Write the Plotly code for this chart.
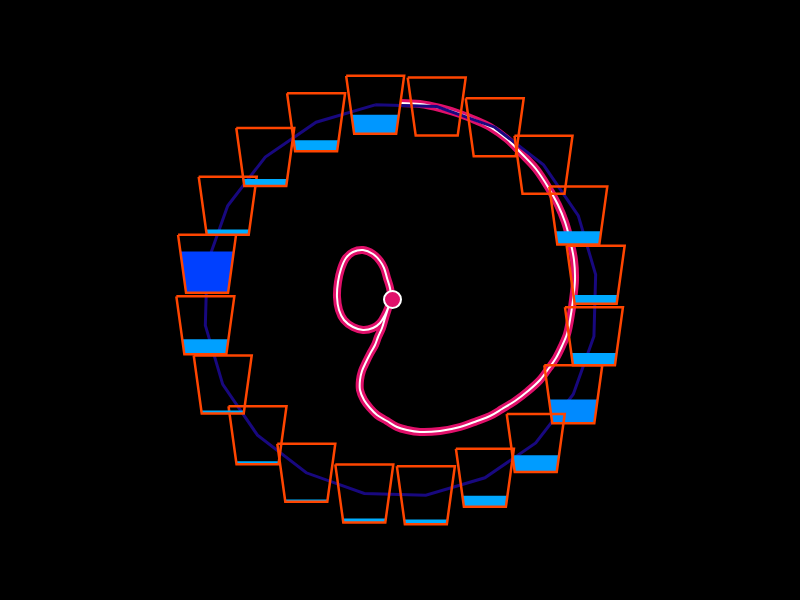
import plotly.graph_objects as go
import numpy as np

# ---------------- data ----------------
wheel_center = (400.5, 300.0)
wheel_radius = 196.8
first_cup_angle_deg = 97.4          # angle of cup 0 (counter-clockwise from +x)
n_cups = 20

# water level in each cup (fraction of cup height), clockwise from the top cup
cup_levels = [0.33, 0.0, 0.0, 0.0, 0.23, 0.15, 0.21, 0.41, 0.29, 0.19,
              0.08, 0.07, 0.04, 0.05, 0.05, 0.26, 0.71, 0.09, 0.12, 0.19]

# phase-space trajectory (oldest -> newest)
traj_x = [400, 420, 440, 460, 475, 490, 507, 522, 536, 548, 558, 565, 570, 574,
          575, 573, 570, 567, 562, 556, 549, 540, 528, 515, 502, 490, 477, 460,
          440, 420, 407, 397, 387, 377, 370, 364, 360, 360, 362, 366, 370, 375,
          378, 382, 385, 389, 391, 390, 387, 384, 380, 373, 363, 353, 346, 341,
          338, 337, 339, 344, 353, 363, 373, 380, 385, 389, 392.5]
traj_y = [103, 104, 108, 114, 120, 127, 139, 154, 169, 187, 205, 222, 240, 260,
          280, 300, 320, 334, 346, 358, 368, 380, 391, 401, 409, 416, 421, 427,
          431, 432, 430, 427, 421, 415, 408, 400, 390, 380, 371, 362, 354, 345,
          337, 328, 318, 305, 296, 288, 278, 268, 261, 254, 250, 252, 258, 269,
          282, 297, 310, 320, 327, 330, 328, 323, 315, 306, 299.5]

# cup geometry (plot units)
cup_height = 58
cup_top_half = 29
cup_bottom_half = 21

# colours
bg = "#000000"
rim_color = "#18087f"
cup_color = "#ff4500"
traj_color = "#e0106a"

# ---------------- build ----------------
cx, cy = wheel_center
ang = np.deg2rad(first_cup_angle_deg - 360.0 / n_cups * np.arange(n_cups))
cup_x = cx + wheel_radius * np.cos(ang)
cup_y = cy - wheel_radius * np.sin(ang)

fig = go.Figure()

# trajectory
fig.add_trace(go.Scatter(x=traj_x, y=traj_y, mode="lines",
                         line=dict(color=traj_color, width=8, shape="spline"),
                         hoverinfo="skip", showlegend=False))
fig.add_trace(go.Scatter(x=traj_x, y=traj_y, mode="lines",
                         line=dict(color="white", width=2, shape="spline"),
                         hoverinfo="skip", showlegend=False))

# wheel rim through cup centres
fig.add_trace(go.Scatter(x=list(cup_x) + [cup_x[0]], y=list(cup_y) + [cup_y[0]],
                         mode="lines", line=dict(color=rim_color, width=3),
                         hoverinfo="skip", showlegend=False))

def fill_color(level):
    g = int(round(max(0, 175 - 220 * level ** 2)))
    return f"rgb(0,{g},255)"

for i in range(n_cups):
    x0, y0 = cup_x[i], cup_y[i]
    ytop = y0 - cup_height / 2
    ybot = y0 + cup_height / 2
    lvl = cup_levels[i]
    if lvl > 0:
        h = lvl * cup_height
        hw = cup_bottom_half + (cup_top_half - cup_bottom_half) * lvl
        fx = [x0 - cup_bottom_half, x0 + cup_bottom_half, x0 + hw, x0 - hw, x0 - cup_bottom_half]
        fy = [ybot, ybot, ybot - h, ybot - h, ybot]
        fig.add_trace(go.Scatter(x=fx, y=fy, mode="lines", fill="toself",
                                 fillcolor=fill_color(lvl),
                                 line=dict(width=0, color=fill_color(lvl)),
                                 hoverinfo="skip", showlegend=False))
    ox = [x0 - cup_top_half, x0 + cup_top_half, x0 + cup_bottom_half, x0 - cup_bottom_half, x0 - cup_top_half]
    oy = [ytop, ytop, ybot, ybot, ytop]
    fig.add_trace(go.Scatter(x=ox, y=oy, mode="lines",
                             line=dict(color=cup_color, width=2.5),
                             hoverinfo="skip", showlegend=False))

# current state marker
fig.add_trace(go.Scatter(x=[traj_x[-1]], y=[traj_y[-1]], mode="markers",
                         marker=dict(size=17, color=traj_color,
                                     line=dict(color="white", width=2)),
                         hoverinfo="skip", showlegend=False))

fig.update_layout(width=800, height=600, autosize=False,
                  margin=dict(l=0, r=0, t=0, b=0),
                  paper_bgcolor=bg, plot_bgcolor=bg,
                  xaxis=dict(range=[0, 800], visible=False, fixedrange=True),
                  yaxis=dict(range=[600, 0], visible=False, fixedrange=True),
                  showlegend=False)

fig.write_html("out.html",
               config={"displayModeBar": False},
               post_script="document.body.style.margin='0';document.body.style.background='black';document.body.style.overflow='hidden';")
